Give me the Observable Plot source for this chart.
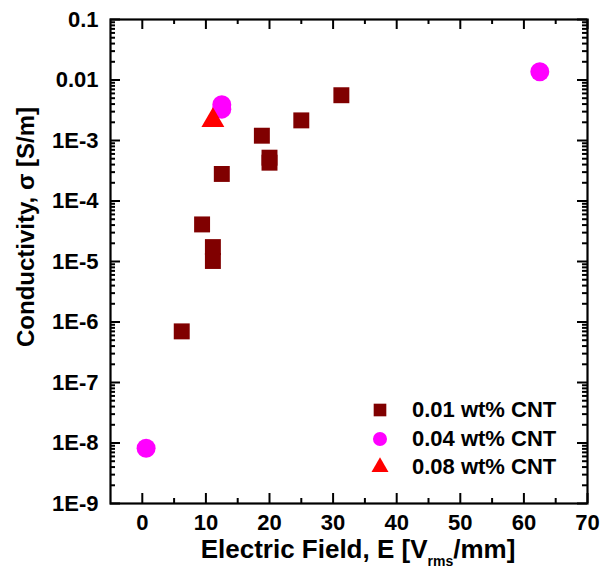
<!DOCTYPE html>
<html>
<head>
<meta charset="utf-8">
<script src="https://cdn.jsdelivr.net/npm/d3@7"></script>
<script src="https://cdn.jsdelivr.net/npm/@observablehq/plot@0.6"></script>
<style>
  html, body { margin: 0; padding: 0; background: #fff; }
  #legend { position: absolute; left: 368px; top: 396px; font-family: "Liberation Sans", Arial, sans-serif; font-weight: bold; font-size: 22px; color: #000; }
  #legend .row { display: flex; align-items: center; height: 28.5px; }
  #legend .row svg { width: 24px; height: 24px; margin-right: 20px; }
</style>
</head>
<body>
<script>
// ---- data ----
const series = ["0.01 wt% CNT", "0.04 wt% CNT", "0.08 wt% CNT"];
const seriesColors = ["#800000", "#ff00ff", "#ff0000"];
const seriesSymbols = ["square", "circle", "triangle"];

const field01 = [6.2, 9.4, 11.1, 11.1, 12.5, 18.8, 20.0, 20.0, 25.0, 31.3];
const sigma01 = [7.0e-7, 4.1e-5, 1.02e-5, 1.73e-5, 2.8e-4, 1.2e-3, 4.3e-4, 5.2e-4, 2.15e-3, 5.6e-3];

const field04 = [0.6, 12.5, 12.5, 62.5];
const sigma04 = [8.2e-9, 3.3e-3, 3.9e-3, 1.37e-2];

const field08 = [11.1];
const sigma08 = [2.15e-3];

const xMajor = [0, 10, 20, 30, 40, 50, 60, 70];
const xMinor = [5, 15, 25, 35, 45, 55, 65];
const yMajor = [1e-9, 1e-8, 1e-7, 1e-6, 1e-5, 1e-4, 1e-3, 1e-2, 1e-1];
const yLabels = ["1E-9", "1E-8", "1E-7", "1E-6", "1E-5", "1E-4", "1E-3", "0.01", "0.1"];
const yMinor = yMajor.slice(0, -1).flatMap(d => [2,3,4,5,6,7,8,9].map(k => +(k * d).toPrecision(3)));

const xLabel = ["Electric Field, E [V", "rms", "/mm]"];
const yLabel = "Conductivity, σ [S/m]";

// ---- table ----
const points = [
  ...field01.map((x, i) => ({x, y: sigma01[i], s: series[0]})),
  ...field04.map((x, i) => ({x, y: sigma04[i], s: series[1]})),
  ...field08.map((x, i) => ({x, y: sigma08[i], s: series[2]}))
];

const W = 610, H = 575, mL = 110, mR = 23, mT = 19, mB = 72;
const pw = W - mL - mR, ph = H - mT - mB;
const major = 10, minor = 5;
const FONT = "Liberation Sans, Arial, sans-serif";

const plot = Plot.plot({
  width: W,
  height: H,
  marginLeft: mL,
  marginRight: mR,
  marginTop: mT,
  marginBottom: mB,
  x: {domain: [-5, 70]},
  y: {type: "log", domain: [1e-9, 0.1]},
  color: {domain: series, range: seriesColors},
  symbol: {domain: series, range: seriesSymbols},
  marks: [
    // inward ticks: bottom / top
    Plot.ruleX(xMajor, {x: d => d, insetTop: ph - major, stroke: "#000000", strokeWidth: 2}),
    Plot.ruleX(xMinor, {x: d => d, insetTop: ph - minor, stroke: "#000000", strokeWidth: 2}),
    Plot.ruleX(xMajor, {x: d => d, insetBottom: ph - major, stroke: "#000000", strokeWidth: 2}),
    Plot.ruleX(xMinor, {x: d => d, insetBottom: ph - minor, stroke: "#000000", strokeWidth: 2}),
    // inward ticks: left / right
    Plot.ruleY(yMajor, {y: d => d, insetRight: pw - major, stroke: "#000000", strokeWidth: 2}),
    Plot.ruleY(yMinor, {y: d => d, insetRight: pw - minor, stroke: "#000000", strokeWidth: 2}),
    Plot.ruleY(yMajor, {y: d => d, insetLeft: pw - major, stroke: "#000000", strokeWidth: 2}),
    Plot.ruleY(yMinor, {y: d => d, insetLeft: pw - minor, stroke: "#000000", strokeWidth: 2}),
    // tick labels
    Plot.axisX(xMajor, {anchor: "bottom", tickSize: 0, tickPadding: 11, fontSize: 22, fontWeight: "bold", fontFamily: FONT, label: null}),
    Plot.axisY(yMajor, {anchor: "left", tickSize: 0, tickPadding: 12, fontSize: 22, fontWeight: "bold", fontFamily: FONT, label: null,
      tickFormat: d => yLabels[yMajor.indexOf(d)]}),
    Plot.frame({stroke: "#000000", strokeWidth: 2.2}),
    Plot.dot(points.filter(d => d.s === series[0]), {x: "x", y: "y", fill: "s", symbol: "s", r: 9.0}),
    Plot.dot(points.filter(d => d.s === series[1]), {x: "x", y: "y", fill: "s", symbol: "s", r: 9.5}),
    Plot.dot(points.filter(d => d.s === series[2]), {x: "x", y: "y", fill: "s", symbol: "s", r: 8.5})
  ]
});

document.body.appendChild(plot);

const svg = d3.select(plot);

// axis titles as real SVG text
const xtitle = svg.append("text")
  .attr("x", 358).attr("y", 558)
  .attr("text-anchor", "middle")
  .attr("font-family", FONT).attr("font-weight", "bold")
  .attr("font-size", 26).attr("fill", "black");
xtitle.append("tspan").text(xLabel[0]);
xtitle.append("tspan").attr("font-size", 14).attr("dy", 8).text(xLabel[1]);
xtitle.append("tspan").attr("dy", -8).text(xLabel[2]);

svg.append("text")
  .attr("transform", "translate(34,227) rotate(-90)")
  .attr("text-anchor", "middle")
  .attr("font-family", FONT).attr("font-weight", "bold")
  .attr("font-size", 24).attr("fill", "black")
  .text(yLabel);

// legend
const legendDiv = document.createElement("div");
legendDiv.id = "legend";
document.body.appendChild(legendDiv);
const legend = d3.select(legendDiv);
const symNames = ["circle","cross","diamond","square","star","triangle","wye"];
const legendSizes = [160, 154, 125];
series.forEach((name, i) => {
  const row = legend.append("div").attr("class", "row");
  const s = row.append("svg").attr("viewBox", "-12 -12 24 24");
  s.append("path")
    .attr("d", d3.symbol(d3.symbolsFill[symNames.indexOf(seriesSymbols[i])], legendSizes[i])())
    .attr("fill", seriesColors[i]);
  row.append("span").text(name);
});
</script>
</body>
</html>
